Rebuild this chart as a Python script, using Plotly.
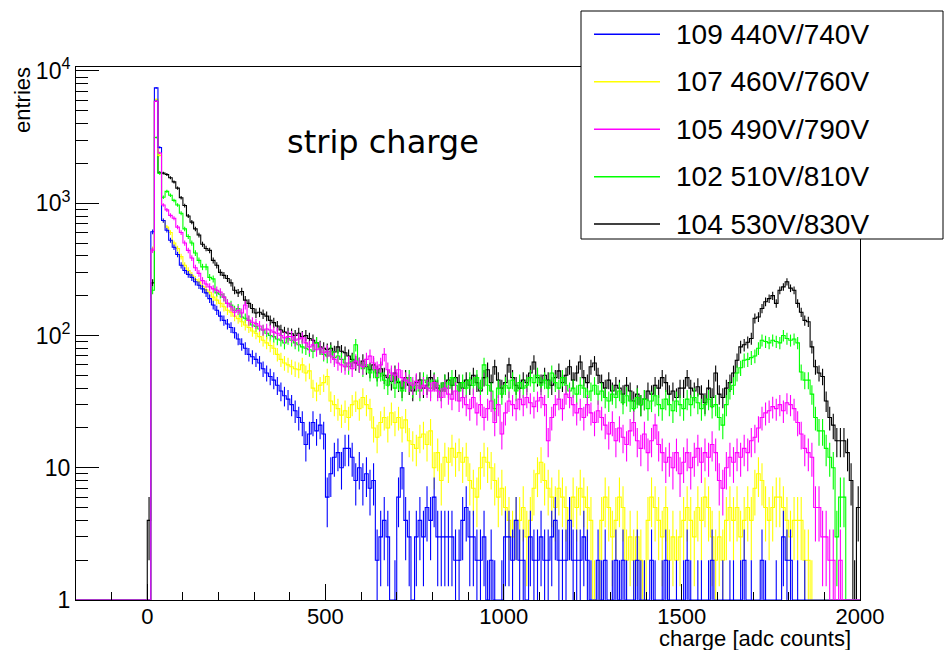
import numpy as np
import plotly.graph_objects as go

# ---------------- data (counts per 10-adc-count bin, bins 0..2000) ----------------
bin_width = 10
bin_start = 0
hist_low = -200          # histogram / axis lower edge (no entries below 0)
hist_high = 2000

labels = ["109 440V/740V", "107 460V/760V", "105 490V/790V", "102 510V/810V", "104 530V/830V"]
colors = ["#0000ff", "#ffff00", "#ff00ff", "#00ff00", "#000000"]

counts_109 = [
    0, 608, 7450, 2640, 740, 625, 525, 465, 410, 340,
    310, 290, 275, 255, 240, 225, 210, 190, 170, 155,
    140, 130, 122, 115, 105, 94, 86, 80, 72, 69,
    66, 62, 56, 52, 49, 46, 42, 38, 35, 33,
    30, 27, 24, 22, 15, 18, 22, 19, 21, 18,
    6, 9, 12, 13, 10, 14, 14, 12, 8, 10,
    8, 9, 7, 8, 2, 3, 4, 3, 0, 1,
    6, 10, 4, 3, 0, 3, 4, 3, 5, 4,
    6, 3, 3, 3, 3, 3, 2, 2, 4, 5,
    3, 3, 2, 2, 3, 1, 2, 1, 0, 1,
    3, 3, 2, 4, 2, 2, 0, 3, 2, 2,
    3, 2, 2, 3, 4, 2, 2, 2, 4, 2,
    2, 2, 3, 2, 1, 0, 2, 1, 2, 0,
    1, 2, 1, 2, 1, 0, 1, 2, 1, 1,
    0, 2, 1, 0, 1, 2, 1, 0, 1, 0,
    1, 2, 1, 0, 1, 1, 0, 1, 2, 0,
    0, 1, 0, 1, 1, 0, 1, 2, 0, 1,
    0, 0, 2, 1, 0, 0, 1, 0, 3, 2,
    2, 0, 1, 0, 1, 0, 0, 0, 0, 0,
    0, 0, 0, 0, 0, 0, 0, 0, 0, 0,
]

counts_107 = [
    0, 450, 6100, 2300, 740, 660, 600, 500, 455, 395,
    340, 310, 285, 265, 255, 235, 222, 212, 195, 185,
    175, 165, 155, 150, 140, 134, 127, 120, 115, 108,
    104, 98, 92, 88, 84, 80, 72, 66, 62, 60,
    58, 56, 55, 60, 52, 54, 40, 38, 42, 44,
    49, 32, 30, 28, 25, 27, 24, 30, 32, 28,
    34, 30, 28, 20, 17, 22, 24, 20, 26, 22,
    24, 20, 23, 16, 15, 14, 17, 18, 15, 19,
    10, 13, 8, 12, 11, 14, 12, 13, 11, 12,
    8, 7, 6, 10, 12, 11, 10, 8, 6, 7,
    5, 4, 3, 4, 4, 5, 3, 4, 7, 9,
    11, 8, 7, 6, 5, 7, 6, 5, 4, 6,
    5, 7, 6, 5, 4, 1, 0, 4, 6, 5,
    3, 4, 6, 5, 2, 3, 2, 3, 2, 1,
    4, 6, 5, 4, 3, 5, 2, 3, 2, 3,
    4, 5, 4, 3, 5, 4, 6, 5, 3, 2,
    3, 2, 4, 5, 4, 5, 3, 4, 5, 4,
    7, 9, 8, 5, 4, 5, 6, 6, 5, 4,
    3, 4, 4, 4, 2, 2, 1, 0, 0, 0,
    0, 0, 0, 0, 0, 0, 0, 0, 0, 0,
]

counts_105 = [
    0, 442, 5900, 2400, 970, 890, 810, 770, 660, 600,
    500, 440, 385, 325, 295, 260, 245, 233, 225, 220,
    213, 195, 175, 165, 150, 155, 148, 170, 130, 126,
    123, 118, 110, 112, 110, 106, 104, 100, 96, 98,
    98, 92, 94, 96, 88, 82, 85, 78, 80, 74,
    76, 70, 66, 62, 60, 58, 62, 56, 64, 60,
    58, 66, 70, 62, 56, 60, 72, 55, 52, 50,
    55, 48, 46, 44, 42, 45, 40, 42, 40, 38,
    44, 38, 34, 40, 36, 33, 38, 32, 34, 30,
    28, 34, 26, 30, 24, 28, 32, 22, 30, 18,
    26, 32, 30, 28, 33, 30, 34, 31, 29, 32,
    34, 30, 16, 24, 30, 33, 28, 36, 34, 30,
    26, 28, 24, 30, 26, 22, 27, 24, 21, 18,
    22, 16, 20, 17, 15, 19, 22, 16, 14, 18,
    13, 16, 21, 15, 13, 11, 12, 10, 13, 9,
    11, 13, 10, 12, 14, 11, 13, 12, 15, 13,
    8, 7, 10, 12, 11, 13, 12, 14, 13, 16,
    17, 20, 24, 26, 27, 29, 28, 30, 27, 31,
    30, 28, 22, 18, 14, 13, 12, 5, 5, 3,
    3, 2, 2, 0, 2, 0, 0, 0, 0, 0,
]

counts_102 = [
    0, 220, 3140, 1680, 1110, 1230, 1150, 1050, 970, 840,
    640, 560, 500, 420, 370, 330, 330, 275, 268, 210,
    205, 195, 175, 170, 155, 160, 138, 135, 130, 120,
    117, 112, 110, 104, 100, 98, 94, 92, 88, 95,
    92, 88, 85, 82, 80, 78, 76, 88, 80, 72,
    70, 76, 68, 70, 66, 62, 58, 64, 85, 60,
    56, 60, 52, 55, 48, 52, 46, 42, 50, 40,
    45, 38, 44, 48, 40, 42, 38, 46, 44, 40,
    46, 42, 38, 44, 40, 48, 42, 38, 44, 40,
    46, 42, 48, 40, 60, 42, 38, 28, 40, 36,
    42, 40, 46, 38, 44, 40, 42, 48, 44, 50,
    42, 46, 40, 52, 44, 40, 48, 42, 38, 40,
    36, 42, 40, 34, 38, 42, 36, 38, 34, 32,
    36, 34, 38, 31, 35, 32, 28, 34, 30, 33,
    28, 32, 35, 30, 28, 33, 30, 27, 32, 30,
    28, 33, 30, 34, 31, 28, 30, 33, 29, 30,
    24, 21, 30, 39, 42, 52, 57, 65, 66, 68,
    70, 80, 92, 90, 88, 92, 90, 88, 100, 95,
    92, 94, 88, 53, 46, 46, 36, 24, 19, 19,
    14, 12, 10, 3, 6, 6, 0, 0, 0, 0,
]

counts_104 = [
    4, 250, 5900, 1700, 1690, 1650, 1560, 1450, 1300, 1100,
    960, 800, 720, 640, 575, 490, 455, 440, 370, 340,
    300, 285, 270, 250, 220, 210, 215, 185, 175, 160,
    148, 150, 145, 140, 130, 125, 118, 110, 106, 104,
    103, 100, 104, 98, 100, 95, 92, 88, 82, 80,
    78, 80, 75, 82, 76, 74, 70, 66, 62, 60,
    64, 58, 55, 60, 52, 56, 50, 48, 45, 52,
    44, 40, 48, 42, 38, 44, 46, 40, 42, 48,
    45, 40, 38, 44, 46, 42, 48, 44, 40, 46,
    42, 50, 44, 38, 48, 55, 44, 58, 46, 40,
    44, 60, 48, 42, 40, 46, 44, 52, 63, 48,
    44, 50, 46, 42, 48, 54, 44, 50, 58, 46,
    52, 63, 48, 44, 58, 62, 50, 44, 40, 46,
    38, 42, 40, 36, 42, 38, 32, 36, 30, 33,
    38, 36, 42, 40, 48, 44, 36, 38, 34, 40,
    40, 48, 40, 38, 41, 36, 31, 40, 34, 52,
    36, 34, 40, 44, 52, 65, 82, 85, 89, 95,
    135, 138, 160, 180, 190, 200, 175, 220, 233, 255,
    228, 220, 175, 150, 130, 127, 82, 58, 52, 49,
    32, 24, 21, 16, 16, 16, 13, 8, 1, 5,
]

series = [counts_109, counts_107, counts_105, counts_102, counts_104]
draw_order = [4, 3, 1, 0, 2]   # black, green, yellow, blue, magenta (magenta on top)

# ---------------- layout geometry (pixels) ----------------
W, H = 944, 650
L, R, T, B = 76, 860, 67, 600
PW, PH = R - L, B - T


def xp(px):
    return (px - L) / PW


def yp(py):
    return (B - py) / PH


FONT = "Liberation Sans, Arial, Helvetica, sans-serif"

fig = go.Figure()

for k in draw_order:
    c = np.array(series[k], dtype=float)
    n = len(c)
    edges = bin_start + bin_width * np.arange(n + 1)
    centers = edges[:-1] + bin_width / 2
    # pad the empty region from the histogram low edge to 0
    pad_edges = np.arange(hist_low, bin_start, bin_width)
    xs = np.concatenate([pad_edges, edges])
    ys_counts = np.concatenate([np.zeros(len(pad_edges)), c, [c[-1]]])
    # on the log axis, empty bins are drawn at the frame minimum (as ROOT does)
    ys = np.where(ys_counts >= 1, ys_counts, 1.0)
    fig.add_trace(go.Scatter(
        x=xs, y=ys, mode="lines", line=dict(color=colors[k], width=1.1, shape="hv"),
        showlegend=False, hoverinfo="skip",
    ))
    mask = c > 0
    err = np.sqrt(c[mask])
    fig.add_trace(go.Scatter(
        x=centers[mask], y=c[mask], mode="markers",
        marker=dict(size=1, color=colors[k]),
        error_y=dict(type="data", symmetric=False, array=err, arrayminus=err,
                     width=0, thickness=1.1, color=colors[k]),
        showlegend=False, hoverinfo="skip",
    ))

# ---------------- axes ----------------
fig.update_xaxes(
    range=[hist_low, hist_high], showgrid=False, zeroline=False,
    showline=True, linecolor="black", linewidth=1, mirror=True,
    tickmode="array", tickvals=[0, 500, 1000, 1500, 2000],
    ticks="inside", ticklen=16, tickcolor="black", tickwidth=1,
    minor=dict(ticks="inside", ticklen=8, tick0=0, dtick=100, tickcolor="black", showgrid=False),
    tickfont=dict(family=FONT, size=22, color="black"),
    ticklabelstandoff=-3,
)

ymaj = [1, 10, 100, 1000, 10000]
ytxt = ["1", "10", "10<sup>2</sup>", "10<sup>3</sup>", "10<sup>4</sup>"]
yminor = [m * d for d in [1, 10, 100, 1000] for m in range(2, 10)]
fig.update_yaxes(
    type="log", range=[0, 4.03], showgrid=False, zeroline=False,
    showline=True, linecolor="black", linewidth=1, mirror=True,
    tickmode="array", tickvals=ymaj, ticktext=ytxt,
    ticks="inside", ticklen=23, tickcolor="black", tickwidth=1,
    minor=dict(ticks="inside", ticklen=12, tickmode="array", tickvals=yminor,
               tickcolor="black", showgrid=False),
    tickfont=dict(family=FONT, size=23, color="black"),
    ticklabelstandoff=0,
)

# ---------------- texts & legend ----------------
ann = []
ann.append(dict(text="strip charge", x=xp(285), y=yp(142), xref="paper", yref="paper",
                xanchor="left", yanchor="middle", showarrow=False,
                font=dict(family="DejaVu Sans, Verdana, sans-serif", size=32, color="black")))
ann.append(dict(text="charge [adc counts]", x=xp(853), y=yp(638), xref="paper", yref="paper",
                xanchor="right", yanchor="middle", showarrow=False,
                font=dict(family=FONT, size=22, color="black")))
ann.append(dict(text="entries", x=xp(23), y=yp(65), xref="paper", yref="paper",
                xanchor="center", yanchor="top", showarrow=False, textangle=-90,
                font=dict(family=FONT, size=22, color="black")))

shapes = []
# legend box
shapes.append(dict(type="rect", xref="paper", yref="paper", x0=xp(581), x1=xp(943),
                   y0=yp(239), y1=yp(11), line=dict(color="black", width=1),
                   fillcolor="white", layer="above"))
row_y = [34.3, 81.7, 129.3, 176.7, 224.0]
for i, lab in enumerate(labels):
    shapes.append(dict(type="line", xref="paper", yref="paper", x0=xp(594), x1=xp(660),
                       y0=yp(row_y[i]), y1=yp(row_y[i]),
                       line=dict(color=colors[i], width=1.5), layer="above"))
    ann.append(dict(text=lab, x=xp(674), y=yp(row_y[i]), xref="paper", yref="paper",
                    xanchor="left", yanchor="middle", showarrow=False,
                    font=dict(family=FONT, size=28, color="black")))

fig.update_layout(
    width=W, height=H, autosize=False,
    margin=dict(l=L, r=W - R, t=T, b=H - B, pad=0),
    paper_bgcolor="white", plot_bgcolor="white",
    showlegend=False, annotations=ann, shapes=shapes,
)

fig.write_html("out.html")
